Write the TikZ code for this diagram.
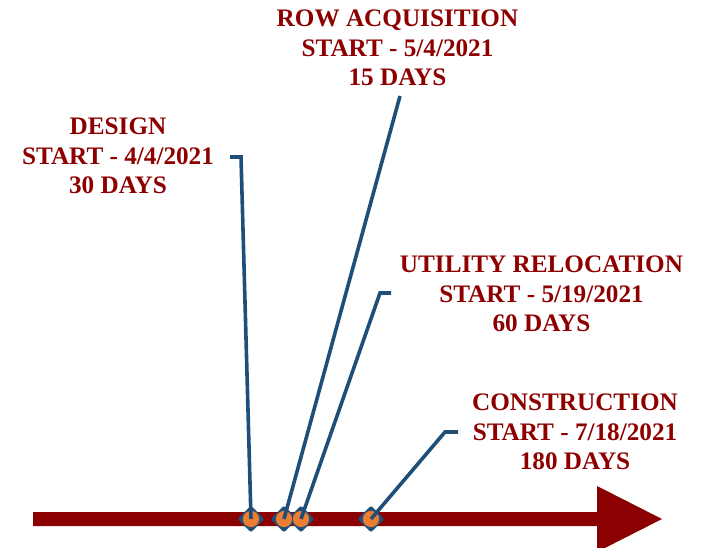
\documentclass[tikz,border=0pt]{standalone}
\usepackage{fontspec}
\setmainfont{Liberation Serif}
\usetikzlibrary{shapes.geometric}
\definecolor{darkred}{HTML}{8E0000}
\definecolor{barred}{HTML}{8B0000}
\definecolor{leader}{HTML}{1F4E79}
\definecolor{dotorange}{HTML}{ED7D31}
\begin{document}
\begin{tikzpicture}[x=1pt,y=-1pt,
  lbl/.style={text=darkred,font=\bfseries\fontsize{25.2}{29.5}\selectfont,align=center,inner sep=0pt,anchor=north},
  marker/.style={rectangle,rotate=45,fill=leader,minimum size=19pt,inner sep=0pt,rounded corners=1.5pt},
  dot/.style={circle,fill=dotorange,draw=leader,line width=0.6pt,minimum size=17pt,inner sep=0pt},
  lead/.style={draw=leader,line width=3.6pt,line join=miter}]
\useasboundingbox (0,0) rectangle (702,547);
% axis
\fill[barred] (33,512) -- (597,512) -- (597,486) -- (662,519) -- (597,552) -- (597,526) -- (33,526) -- cycle;
% markers
\foreach \n/\x in {m1/251,m2/284,m3/301,m4/371}{
  \node[marker] (\n) at (\x,519) {};
}
\foreach \n in {m1,m2,m3,m4}{
  \node[dot] (\n d) at (\n) {};
}
% labels
\node[lbl] (design) at (118,118) {DESIGN\\START - 4/4/2021\\30 DAYS};
\node[lbl] (row) at (397.5,10) {ROW ACQUISITION\\START - 5/4/2021\\15 DAYS};
\node[lbl] (util) at (541.5,256) {UTILITY RELOCATION\\START - 5/19/2021\\60 DAYS};
\node[lbl] (cons) at (575,394) {CONSTRUCTION\\START - 7/18/2021\\180 DAYS};
% leader corners
\coordinate (c1) at (241,157);
\coordinate (e1) at (230,157);
\coordinate (c2) at (400,96);
\coordinate (c3) at (380,293);
\coordinate (e3) at (391,293);
\coordinate (c4) at (445,432);
\coordinate (e4) at (458,432);
% leaders
\draw[lead] (m1.center) -- (c1) -- (e1);
\draw[lead] (m2.center) -- (c2);
\draw[lead] (m3.center) -- (c3) -- (e3);
\draw[lead] (m4.center) -- (c4) -- (e4);
\end{tikzpicture}
\end{document}
